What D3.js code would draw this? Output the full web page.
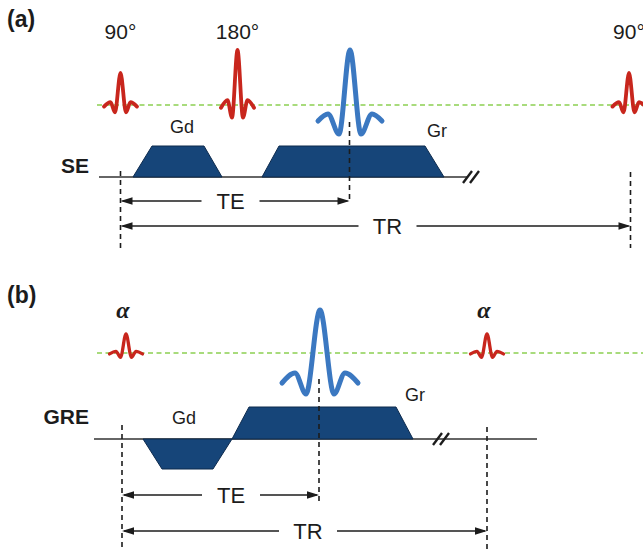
<!DOCTYPE html>
<html><head><meta charset="utf-8">
<script src="https://cdn.jsdelivr.net/npm/d3@7"></script>
<style>body{margin:0;background:#fff} svg{display:block}</style>
</head><body>
<script>
// ---------- data ----------
const panelLabels = ["(a)", "(b)"];
const sequenceNames = ["SE", "GRE"];
const rfTimes = [[0, 117, 508.5], [4, 365]];
const rfAmps = [[32, 55, 32], [19, 19]];
const rfLabels = [["90°", "180°", "90°"], ["α", "α"]];
const rfShape = [[-16.5, -0.05], [-10, 0.09], [-5.5, -0.23], [0, 1], [5.5, -0.23], [10, 0.09], [16.5, -0.05]];
const echoTimes = [229.5, 198];
const echoShapes = [
  [[-32, -16], [-22, -9], [-11, -29], [0, 55], [11, -29], [22, -9], [32, -16]],
  [[-38, -30], [-25, -20], [-14, -41], [0, 43], [14, -41], [25, -20], [38, -30]]
];
const gradNames = [["Gd", "Gr"], ["Gd", "Gr"]];
const gradTimes = [
  [[12.5, 31.5, 83.5, 101.5], [141.5, 158.5, 304.5, 323.5]],
  [[21, 40, 91, 110], [110, 127, 274, 291]]
];
const gradAmps = [[31, 31], [-30, 32]];
const teTimes = [229, 197];
const trTimes = [510, 365];
const intervalLabels = ["TE", "TR"];

// ---------- layout ----------
const layout = [
  {x0: 120.5, rfY: 105, gY: 177, line: [99, 467], brk: 471, lblY: 27, seqY: 173, pulseLblY: 39,
   teY: 201, trY: 226, teLbl: 110, trLbl: 267, gLbl: [[61.5, 133], [316.5, 137]],
   vL: [[171, 249], [122, 201], [172, 248]]},
  {x0: 122, rfY: 353, gY: 439, line: [94, 537], brk: 441, lblY: 303, seqY: 424, pulseLblY: 318,
   teY: 495, trY: 531, teLbl: 109, trLbl: 186, gLbl: [[62, 424], [293, 401]],
   vL: [[425, 549], [379, 505], [427, 552]]}
];

const W = 643, H = 552;
const svg = d3.select("body").append("svg").attr("width", W).attr("height", H)
  .style("font-family", "'Liberation Sans', Arial, sans-serif");

const navy = "#164579", red = "#c8261d", blue = "#3b78c1", green = "#8ccf52", ink = "#1c1c1c";

layout.forEach((L, p) => {
  const x = d3.scaleLinear().domain([0, 100]).range([L.x0, L.x0 + 100]);
  const yRF = d3.scaleLinear().domain([0, 50]).range([L.rfY, L.rfY - 50]);
  const yG = d3.scaleLinear().domain([0, 30]).range([L.gY, L.gY - 30]);
  const g = svg.append("g");

  // panel label & sequence name
  g.append("text").attr("x", 7).attr("y", L.lblY).attr("font-size", 23).attr("font-weight", "bold")
    .attr("fill", ink).text(panelLabels[p]);
  g.append("text").attr("x", 89).attr("y", L.seqY).attr("font-size", 21).attr("font-weight", "bold")
    .attr("text-anchor", "end").attr("fill", ink).text(sequenceNames[p]);

  // green RF baseline
  g.append("line").attr("x1", 97).attr("x2", W).attr("y1", L.rfY).attr("y2", L.rfY)
    .attr("stroke", green).attr("stroke-width", 1.3).attr("stroke-dasharray", "5,3.5");

  // gradient baseline
  g.append("line").attr("x1", L.line[0]).attr("x2", L.line[1]).attr("y1", L.gY).attr("y2", L.gY)
    .attr("stroke", "#333").attr("stroke-width", 1.3);

  // gradients
  gradTimes[p].forEach((ts, i) => {
    const a = gradAmps[p][i];
    const pts = [[ts[0], 0], [ts[1], a], [ts[2], a], [ts[3], 0]];
    g.append("path")
      .attr("d", d3.line().x(d => x(d[0])).y(d => yG(d[1]))(pts) + "Z")
      .attr("fill", navy).attr("stroke", "#0d2a4d").attr("stroke-width", 1);
    g.append("text").attr("x", x(L.gLbl[i][0])).attr("y", L.gLbl[i][1]).attr("text-anchor", "middle")
      .attr("font-size", 18).attr("fill", ink).text(gradNames[p][i]);
  });

  // break mark
  [0, 7].forEach(o => {
    g.append("line").attr("x1", L.brk - 8 + o).attr("y1", L.gY + 6).attr("x2", L.brk + 1 + o).attr("y2", L.gY - 6)
      .attr("stroke", ink).attr("stroke-width", 2.4);
  });

  // RF pulses
  const curve = d3.line().curve(d3.curveMonotoneX);
  rfTimes[p].forEach((t, i) => {
    const amp = rfAmps[p][i];
    g.append("path")
      .attr("d", curve.x(d => x(t + d[0])).y(d => yRF(d[1] * amp))(rfShape))
      .attr("fill", "none").attr("stroke", red).attr("stroke-width", p === 0 ? 3.8 : 3.3)
      .attr("stroke-linecap", "round").attr("stroke-linejoin", "round");
    const lab = g.append("text").attr("x", x(t) - (p === 1 ? 3 : 0)).attr("y", L.pulseLblY)
      .attr("text-anchor", "middle").attr("fill", ink).text(rfLabels[p][i]);
    if (p === 0) lab.attr("font-size", 21);
    else lab.attr("font-size", 24).attr("font-weight", "bold").attr("font-style", "italic")
      .attr("font-family", "'Liberation Serif', 'DejaVu Serif', serif");
  });

  // echo
  const et = echoTimes[p];
  g.append("path")
    .attr("d", curve.x(d => x(et + d[0])).y(d => yRF(d[1]))(echoShapes[p]))
    .attr("fill", "none").attr("stroke", blue).attr("stroke-width", 5)
    .attr("stroke-linecap", "round").attr("stroke-linejoin", "round");

  // dashed vertical markers
  [0, teTimes[p], trTimes[p]].forEach((t, i) => {
    g.append("line").attr("x1", x(t)).attr("x2", x(t)).attr("y1", L.vL[i][0]).attr("y2", L.vL[i][1])
      .attr("stroke", ink).attr("stroke-width", 1.6).attr("stroke-dasharray", "5,4");
  });

  // interval arrows
  [[teTimes[p], L.teY, L.teLbl, intervalLabels[0]], [trTimes[p], L.trY, L.trLbl, intervalLabels[1]]]
    .forEach(([t1, y, lt, name]) => {
      const xa = x(0), xb = x(t1), xl = x(lt), gap = 29;
      g.append("line").attr("x1", xa + 2).attr("x2", xl - gap).attr("y1", y).attr("y2", y)
        .attr("stroke", ink).attr("stroke-width", 1.6);
      g.append("line").attr("x1", xl + gap).attr("x2", xb - 2).attr("y1", y).attr("y2", y)
        .attr("stroke", ink).attr("stroke-width", 1.6);
      g.append("path").attr("d", `M${xa},${y} L${xa + 12},${y - 3.8} L${xa + 12},${y + 3.8} Z`).attr("fill", ink);
      g.append("path").attr("d", `M${xb},${y} L${xb - 12},${y - 3.8} L${xb - 12},${y + 3.8} Z`).attr("fill", ink);
      g.append("text").attr("x", xl).attr("y", y + 7.5).attr("text-anchor", "middle")
        .attr("font-size", 22).attr("fill", ink).text(name);
    });
});
</script>
</body></html>
